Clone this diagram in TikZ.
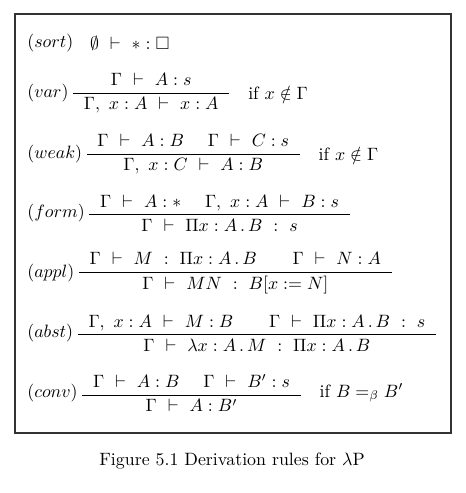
\documentclass[tikz,border=0pt]{standalone}
\usepackage{amsmath,amssymb}
\usetikzlibrary{positioning}
\newcommand{\ent}{\ \vdash\ }
\newcommand{\pd}[1]{\hspace{6pt}#1\hspace{6pt}}

\begin{document}
\begin{tikzpicture}[x=0.56pt, y=-0.56pt,
    rlabel/.style={anchor=west, inner sep=0pt},
    rulebox/.style={inner sep=0pt},
    side/.style={inner sep=0pt}]
    \useasboundingbox (0,0) rectangle (466,493);
    % Frame
    \draw[line width=0.75pt, draw=black!80] (15,14) rectangle (451,433);

    % Rules
    \node[rlabel] (sortL) at (27,43) {$(sort)$};
    \node[rulebox, right=9pt of sortL] (sort) {$\emptyset \ent * : \Box$};

    \node[rlabel] (varL) at (27,93) {$(var)$};
    \node[rulebox, right=1pt of varL] (var) {$\dfrac{\pd{\Gamma \ent A : s}}{\pd{\Gamma,\ x : A \ent x : A}}$};
    \node[side, right=9pt of var] (varC) {if $x \notin \Gamma$};

    \node[rlabel] (weakL) at (27,154) {$(weak)$};
    \node[rulebox, right=1pt of weakL] (weak) {$\dfrac{\pd{\Gamma \ent A : B \quad\ \Gamma \ent C : s}}{\pd{\Gamma,\ x : C \ent A : B}}$};
    \node[side, right=9pt of weak] (weakC) {if $x \notin \Gamma$};

    \node[rlabel] (formL) at (27,213) {$(form)$};
    \node[rulebox, right=1pt of formL] (form) {$\dfrac{\pd{\Gamma \ent A : * \quad\ \Gamma,\ x : A \ent B : s}}{\pd{\Gamma \ent \Pi x : A \,.\, B \ : \ s}}$};

    \node[rlabel] (applL) at (27,273) {$(appl)$};
    \node[rulebox, right=1pt of applL] (appl) {$\dfrac{\pd{\Gamma \ent M \ : \ \Pi x : A \,.\, B \qquad \Gamma \ent N : A}}{\pd{\Gamma \ent MN \ : \ B[x := N]}}$};

    \node[rlabel] (abstL) at (27,333) {$(abst)$};
    \node[rulebox, right=1pt of abstL] (abst) {$\dfrac{\pd{\Gamma,\ x : A \ent M : B \qquad \Gamma \ent \Pi x : A \,.\, B \ : \ s}}{\pd{\Gamma \ent \lambda x : A \,.\, M \ : \ \Pi x : A \,.\, B}}$};

    \node[rlabel] (convL) at (27,393) {$(conv)$};
    \node[rulebox, right=1pt of convL] (conv) {$\dfrac{\pd{\Gamma \ent A : B \quad\ \Gamma \ent B' : s}}{\pd{\Gamma \ent A : B'}}$};
    \node[side, right=9pt of conv] (convC) {if $B =_\beta B'$};

    % Caption
    \node (cap) at (232,461) {Figure 5.1 Derivation rules for $\lambda$P};
\end{tikzpicture}
\end{document}
